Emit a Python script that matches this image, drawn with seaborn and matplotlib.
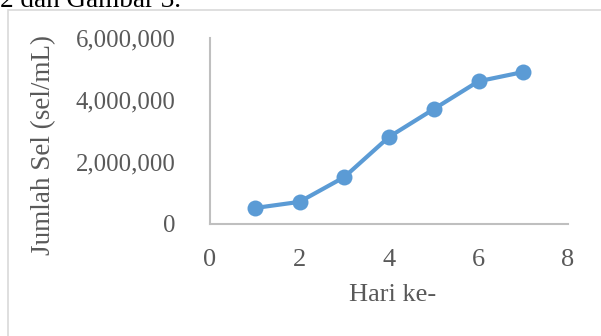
import matplotlib
matplotlib.use("Agg")
import matplotlib.pyplot as plt
import seaborn as sns
import pandas as pd
from matplotlib.patches import Rectangle

# Cell density over the culture period
hari = [1, 2, 3, 4, 5, 6, 7]
jumlah_sel = [500000, 700000, 1500000, 2800000, 3700000, 4600000, 4900000]
x_ticks = [0, 2, 4, 6, 8]
y_ticks = [0, 2000000, 4000000, 6000000]

df = pd.DataFrame({"Hari ke-": hari, "Jumlah Sel (sel/mL)": jumlah_sel})

sns.set_theme(style="white")
plt.rcParams["font.family"] = ["Liberation Serif", "DejaVu Serif"]

W, H = 601, 336
fig = plt.figure(figsize=(W / 100, H / 100), dpi=100)
ax = fig.add_axes([210 / W, 1 - 223.5 / H, (568 - 210) / W, (223.5 - 38) / H])

sns.lineplot(data=df, x="Hari ke-", y="Jumlah Sel (sel/mL)", ax=ax,
             color="#5B9BD5", linewidth=3, marker="o", markersize=11.5,
             markeredgewidth=0, markerfacecolor="#5B9BD5")

ax.set_xlim(0, 8)
ax.set_ylim(0, 6000000)
ax.set_xticks(x_ticks)
ax.set_yticks(y_ticks)
ax.set_xticklabels([str(v) for v in x_ticks])
ax.set_yticklabels([f"{v:,}" for v in y_ticks])

text_col = "#595959"
ax.tick_params(axis="both", length=0, labelcolor=text_col)
ax.tick_params(axis="y", pad=25, labelsize=17.8)
ax.tick_params(axis="x", pad=18, labelsize=19)

for side in ["top", "right"]:
    ax.spines[side].set_visible(False)
for side in ["left", "bottom"]:
    ax.spines[side].set_color("#BFBFBF")
    ax.spines[side].set_linewidth(1.5)

ax.set_xlabel("")
ax.set_ylabel("")
fig.text(393 / W, 1 - 295 / H, "Hari ke-", ha="center", va="center",
         fontsize=19, color=text_col)
fig.text(44 / W, 1 - 145 / H, "Jumlah Sel (sel/mL)", ha="center", va="center",
         rotation=90, fontsize=19.5, color=text_col)

# Chart area border
fig.patches.append(Rectangle((8 / W, -0.05), 1.0, 1 - 10 / H + 0.05,
                             transform=fig.transFigure, fill=False,
                             edgecolor="#D9D9D9", linewidth=1.2))

# Running text of the document just above the chart
fig.text(0.0, 1 - 7 / H, "2 dan Gambar 3.", ha="left", va="baseline",
         fontsize=19.5, color="black")

fig.savefig("out.png", dpi=100)
